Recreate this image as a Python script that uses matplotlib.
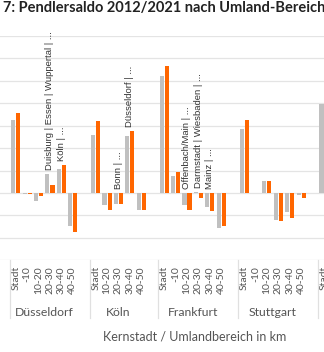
import matplotlib
matplotlib.use("Agg")
import matplotlib.pyplot as plt
import matplotlib.transforms as mtransforms

# Pendlersaldo in Tsd. (grau = 2012, orange = 2021)
cities = ["Düsseldorf", "Köln", "Frankfurt", "Stuttgart", "München"]
rings = [
    ["Stadt", "-10", "10-20", "20-30", "30-40", "40-50"],
    ["Stadt", "10-20", "20-30", "30-40", "40-50"],
    ["Stadt", "-10", "10-20", "20-30", "30-40", "40-50"],
    ["Stadt", "-10", "10-20", "20-30", "30-40", "40-50"],
    ["Stadt"],
]
saldo_2012 = [
    [32.3, -0.4, -3.6, 8.3, 10.8, -14.8],
    [25.9, -5.5, -4.7, 25.2, -7.4],
    [52.0, 7.6, -5.3, 0.3, -6.2, -15.4],
    [28.6, 0.2, 5.5, -11.9, -8.4, -0.9],
    [39.4],
]
saldo_2021 = [
    [35.7, -0.3, -1.3, 3.6, 12.3, -17.2],
    [32.0, -7.6, -4.7, 27.6, -7.7],
    [56.4, 9.3, -7.7, -2.1, -7.9, -14.8],
    [32.6, 0.0, 5.3, -12.3, -11.0, -2.4],
    [44.0],
]
# Umlandstaedte je Ring (Stadt, Ring)
notes = {
    (0, 3): "Duisburg | Essen | Wuppertal | ...",
    (0, 4): "Köln | ...",
    (1, 2): "Bonn | ...",
    (1, 3): "Düsseldorf | ...",
    (2, 2): "Offenbach/Main | ...",
    (2, 3): "Darmstadt | Wiesbaden | ...",
    (2, 4): "Mainz | ...",
}

GREY = "#c0c0c0"
ORANGE = "#ff6600"
TXT = "#555555"

fig = plt.figure(figsize=(3.24, 3.52), dpi=100)
ax = fig.add_axes([0, 0.26, 1, 0.639])

# positions: every group gets one empty slot at its end
xpos, xlab, starts = [], [], []
pos = 0
for g, cats in enumerate(rings):
    starts.append(pos)
    xpos.append([pos + i for i in range(len(cats))])
    xlab += cats
    pos += len(cats) + 1

w = 0.36
for g in range(len(cities)):
    xs = xpos[g]
    ax.bar([x - 0.22 for x in xs], saldo_2012[g], width=w, color=GREY, zorder=3)
    ax.bar([x + 0.22 for x in xs], saldo_2021[g], width=w, color=ORANGE, zorder=3)

for (g, i), txt in notes.items():
    top = max(0, saldo_2012[g][i], saldo_2021[g][i])
    ax.annotate(txt, (xpos[g][i], top), xytext=(0, 3), textcoords="offset points",
                rotation=90, ha="center", va="bottom", fontsize=6.8,
                family="Liberation Sans", color="#333333", annotation_clip=False)

ax.set_xlim(-1.375, 26.97)
ax.set_ylim(-30, 70)
ax.set_yticks(range(-30, 80, 10))
ax.set_yticklabels([])
ax.yaxis.grid(True, color="#e4e4e4", lw=0.9, zorder=0)
ax.tick_params(axis="y", length=0)
for s in ax.spines.values():
    s.set_visible(False)

allx = [x for xs in xpos for x in xs]
ax.set_xticks(allx)
ax.set_xticklabels(xlab, rotation=90, fontsize=7.5, family="Lato", color=TXT)
ax.tick_params(axis="x", length=0, pad=4)

trans = mtransforms.blended_transform_factory(ax.transData, fig.transFigure)
for g, name in enumerate(cities):
    sep = starts[g] - 0.5
    ax.plot([sep, sep], [0.26, 0.097], transform=trans, color="#e0e0e0",
            lw=0.9, clip_on=False)
    if g == len(cities) - 1:
        continue  # label of the last group lies outside the frame
    mid = starts[g] + (len(rings[g]) - 1) / 2
    ax.text(mid, 0.112, name, transform=trans, ha="center", va="center",
            fontsize=8.8, family="Lato", color=TXT)

fig.text(0.6, 0.045, "Kernstadt / Umlandbereich in km", ha="center", va="center",
         fontsize=9, family="Lato", color=TXT)

fig.text(0.009, 0.977, "Tabelle ", ha="right", va="center", fontsize=10.5,
         family="Lato", weight="bold", color="#222222")
fig.text(0.009, 0.977, "7: Pendlersaldo 2012/2021 nach Umland-Bereichen",
         ha="left", va="center", fontsize=10.5, family="Lato", weight="bold",
         color="#222222")

fig.savefig("out.png", dpi=100)
